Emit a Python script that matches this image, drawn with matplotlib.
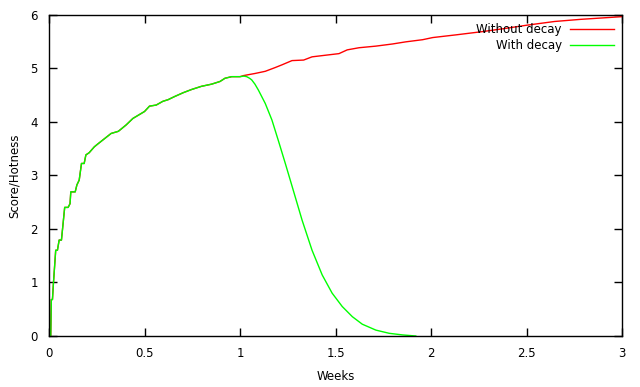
import matplotlib
matplotlib.use("Agg")
import matplotlib.pyplot as plt

# shared rise (both series identical up to ~1 week)
rise_weeks = [0.009, 0.012, 0.018, 0.023, 0.035, 0.044, 0.053, 0.065, 0.082, 0.1,
              0.11, 0.114, 0.137, 0.146, 0.158, 0.17, 0.184, 0.193, 0.21, 0.237,
              0.254, 0.325, 0.363, 0.404, 0.439, 0.5, 0.526, 0.561, 0.596, 0.623,
              0.658, 0.702, 0.746, 0.798, 0.851, 0.895, 0.921, 0.956, 1.0]
rise_score = [0.0, 0.68, 0.68, 0.98, 1.6, 1.6, 1.79, 1.79, 2.4, 2.4,
              2.47, 2.69, 2.69, 2.82, 2.91, 3.22, 3.22, 3.38, 3.42, 3.53,
              3.58, 3.78, 3.82, 3.94, 4.06, 4.19, 4.29, 4.31, 4.38, 4.41,
              4.47, 4.54, 4.6, 4.66, 4.7, 4.75, 4.81, 4.84, 4.84]

# without decay, after 1 week
nodecay_weeks = [1.018, 1.079, 1.132, 1.184, 1.219, 1.272, 1.333, 1.377, 1.447, 1.518,
                 1.561, 1.623, 1.711, 1.798, 1.868, 1.956, 2.009, 2.13, 2.267, 2.388,
                 2.5, 2.647, 2.784, 3.0]
nodecay_score = [4.86, 4.90, 4.94, 5.01, 5.06, 5.14, 5.15, 5.21, 5.24, 5.27,
                 5.34, 5.38, 5.41, 5.45, 5.49, 5.53, 5.57, 5.62, 5.68, 5.74,
                 5.80, 5.87, 5.91, 5.96]

# with decay, after 1 week
decay_weeks = [1.02, 1.035, 1.05, 1.061, 1.078, 1.096, 1.132, 1.167, 1.202, 1.237,
               1.272, 1.325, 1.377, 1.43, 1.482, 1.535, 1.588, 1.64, 1.711, 1.781,
               1.851, 1.92]
decay_score = [4.85, 4.84, 4.81, 4.78, 4.70, 4.59, 4.34, 4.03, 3.63, 3.22,
               2.80, 2.16, 1.60, 1.14, 0.80, 0.55, 0.36, 0.22, 0.11, 0.05,
               0.02, 0.0]

xticks = [0, 0.5, 1, 1.5, 2, 2.5, 3]
xtick_labels = ["0", "0.5", "1", "1.5", "2", "2.5", "3"]
yticks = [0, 1, 2, 3, 4, 5, 6]

plt.rcParams.update({
    "font.family": "DejaVu Sans",
    "font.size": 8.5,
})

fig = plt.figure(figsize=(6.4, 3.87), dpi=100)
ax = fig.add_axes([0.0766, 0.1318, 0.8954, 0.8307])

ax.plot(rise_weeks + nodecay_weeks, rise_score + nodecay_score,
        color="#ff0000", lw=1.0, label="Without decay")
ax.plot(rise_weeks + decay_weeks, rise_score + decay_score,
        color="#00ff00", lw=1.0, label="With decay")

ax.set_xlim(0, 3)
ax.set_ylim(0, 6)
ax.set_xticks(xticks)
ax.set_xticklabels(xtick_labels)
ax.set_yticks(yticks)
ax.tick_params(direction="in", length=6, width=1, top=True, right=True, pad=8)
for s in ax.spines.values():
    s.set_linewidth(1)

ax.set_xlabel("Weeks", labelpad=7)
ax.set_ylabel("Score/Hotness", labelpad=7)

ax.legend(loc="upper right", frameon=False, markerfirst=False,
          handlelength=3.7, handletextpad=0.7, labelspacing=0.25,
          borderaxespad=0.3, fontsize=8.5)

fig.savefig("out.png", dpi=100)
